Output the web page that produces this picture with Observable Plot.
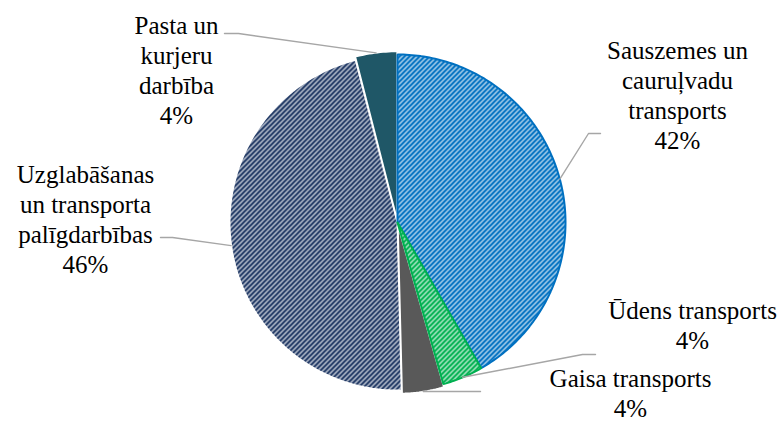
<!DOCTYPE html>
<html lang="lv"><head><meta charset="utf-8">
<script src="https://cdn.jsdelivr.net/npm/d3@7"></script>
<script src="https://cdn.jsdelivr.net/npm/@observablehq/plot@0.6"></script>
<style>html,body{margin:0;padding:0;background:#fff}svg{display:block}
svg text, svg tspan{font-family:"Liberation Serif","Times New Roman",serif !important;}</style>
</head><body><div id="fig"></div>
<script>
// ---- data ----
const categories = ["Sauszemes un\ncauruļvadu\ntransports", "Ūdens transports", "Gaisa transports", "Uzglabāšanas\nun transporta\npalīgdarbības", "Pasta un\nkurjeru\ndarbība"];
const shares = [41.7, 3.9, 4.0, 46.4, 4.0];

// ---- styles ----
const colors = ["#0070C0", "#00B050", "#595959", "#203864", "#1F5767"];
const hatched = [true, true, false, true, false];
const borders = ["#0070C0", "#00B050", "#ffffff", "#ffffff", "#ffffff"];
const FONT = "Liberation Serif";

// ---- layout ----
const W = 784, H = 421, cx = 397, cy = 222, R = 168;
const explode = [0, 0, 3, 0, 3];
const labelPos = [[677, 58], [692, 318], [630, 386], [85, 182], [176, 33]]; // centre x, first baseline
const lineStep = 30;
const leaderPts = [[[588, 133], [600, 133]], [[582, 354], [595, 354]], [[480, 391]], [[172, 237], [160, 237]], [[238, 33], [224, 33]]];
const hatchSize = 5, hatchWidth = 2.6;

const total = d3.sum(shares);
let cum = 0;
const slices = shares.map((v, i) => {
  const a0 = cum / total * 2 * Math.PI; cum += v;
  const a1 = cum / total * 2 * Math.PI;
  const am = (a0 + a1) / 2;
  const ox = explode[i] * Math.sin(am), oy = -explode[i] * Math.cos(am);
  const pts = [{x: cx + ox, y: cy + oy}];
  const n = Math.max(4, Math.ceil((a1 - a0) / (Math.PI / 180)));
  for (let k = 0; k <= n; k++) {
    const a = a0 + (a1 - a0) * k / n;
    pts.push({x: cx + ox + R * Math.sin(a), y: cy + oy - R * Math.cos(a)});
  }
  pts.push({x: cx + ox, y: cy + oy});
  const edge = {x: cx + ox + R * Math.sin(am), y: cy + oy - R * Math.cos(am)};
  return {i, pts, edge};
});

const marks = [];
const drawOrder = [3, 4, 2, 0, 1];
for (const i of drawOrder) {
  marks.push(Plot.line(slices[i].pts, {
    x: "x", y: "y",
    fill: hatched[i] ? `url(#hatch${i})` : colors[i],
    stroke: borders[i], strokeWidth: hatched[i] ? 2 : 1.5, strokeLinejoin: "miter"
  }));
}
slices.forEach((s, i) => {
  const line = [s.edge, ...leaderPts[i].map(([x, y]) => ({x, y}))];
  marks.push(Plot.line(line, {x: "x", y: "y", stroke: "#A6A6A6", strokeWidth: 1.4}));
});
const labelLines = [];
categories.forEach((c, i) => {
  const lines = [...c.split("\n"), Math.round(shares[i] / total * 100) + "%"];
  lines.forEach((t, k) => labelLines.push({x: labelPos[i][0], y: labelPos[i][1] + k * lineStep, t}));
});
marks.push(Plot.text(labelLines, {
  x: "x", y: "y", text: "t", fontSize: 25, fontFamily: FONT,
  lineAnchor: "bottom", textAnchor: "middle", fill: "#000"
}));

const svg = Plot.plot({
  width: W, height: H, margin: 0,
  x: {domain: [0, W], range: [0, W], axis: null},
  y: {domain: [0, H], range: [0, H], axis: null},
  marks
});
svg.setAttribute("font-family", FONT);
svg.style.setProperty("font-family", FONT, "important");
svg.querySelectorAll("g, text, tspan").forEach(el => {
  el.setAttribute("font-family", FONT);
  el.style.setProperty("font-family", `"${FONT}", "Times New Roman", serif`, "important");
});
const defs = d3.select(svg).insert("defs", ":first-child");
colors.forEach((c, i) => {
  if (!hatched[i]) return;
  const s = hatchSize;
  const p = defs.append("pattern").attr("id", "hatch" + i)
    .attr("patternUnits", "userSpaceOnUse").attr("width", s).attr("height", s);
  p.append("rect").attr("width", s).attr("height", s).attr("fill", "#fff");
  p.append("path")
    .attr("d", `M0,${s}L${s},0M-1,1L1,-1M${s - 1},${s + 1}L${s + 1},${s - 1}`)
    .attr("stroke", c).attr("stroke-width", hatchWidth).attr("fill", "none");
});
document.getElementById("fig").appendChild(svg);
</script>
</body></html>
